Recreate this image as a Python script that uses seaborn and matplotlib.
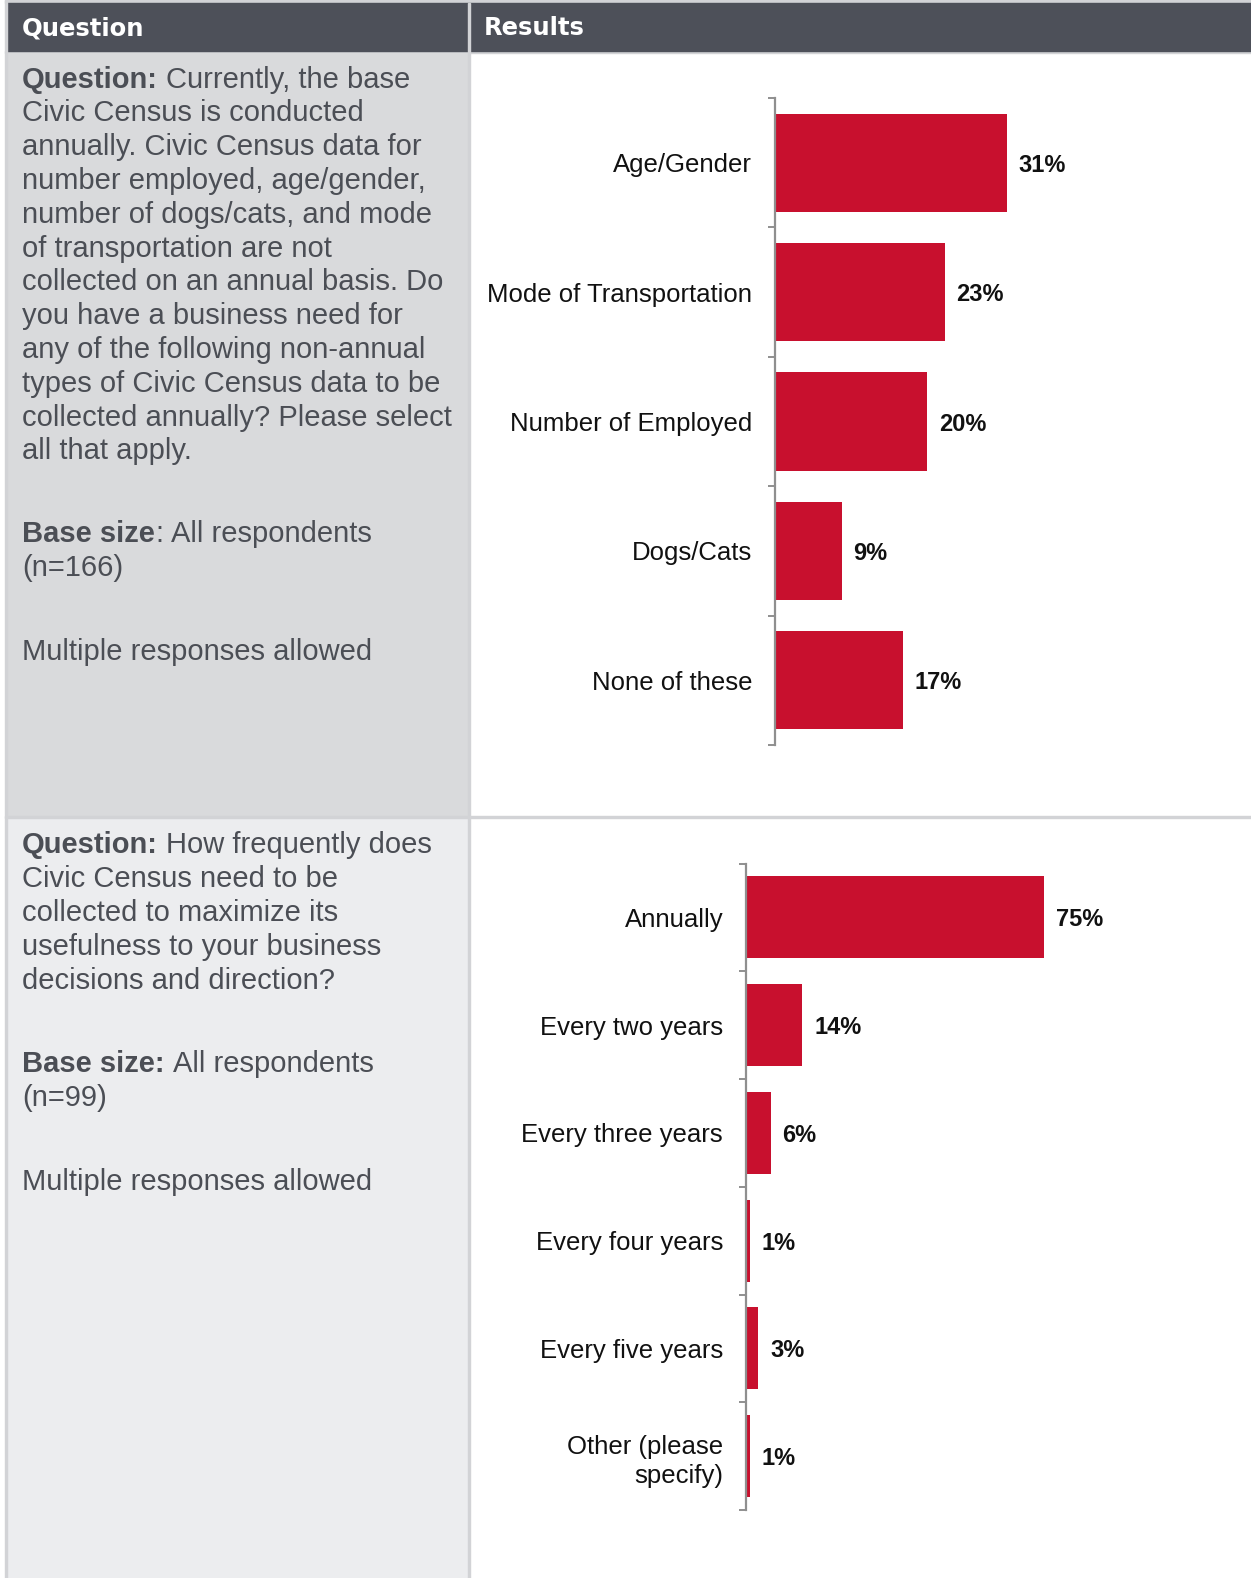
import numpy as np
import pandas as pd
import matplotlib
matplotlib.use("Agg")
import matplotlib.pyplot as plt
import seaborn as sns
from matplotlib.patches import Rectangle

# ---------------- data ----------------
q1_categories = ["Age/Gender", "Mode of Transportation", "Number of Employed",
                 "Dogs/Cats", "None of these"]
q1_values = [31.0, 22.7, 20.4, 8.9, 17.1]
q1_labels = ["31%", "23%", "20%", "9%", "17%"]

q2_categories = ["Annually", "Every two years", "Every three years",
                 "Every four years", "Every five years", "Other (please\nspecify)"]
q2_values = [75.0, 14.2, 6.2, 1.0, 3.1, 1.0]
q2_labels = ["75%", "14%", "6%", "1%", "3%", "1%"]

header_labels = ["Question", "Results"]

q1_text = [
    [[("Question:", True), ("Currently, the base", False)],
     [("Civic Census is conducted", False)],
     [("annually. Civic Census data for", False)],
     [("number employed, age/gender,", False)],
     [("number of dogs/cats, and mode", False)],
     [("of transportation are not", False)],
     [("collected on an annual basis. Do", False)],
     [("you have a business need for", False)],
     [("any of the following non-annual", False)],
     [("types of Civic Census data to be", False)],
     [("collected annually? Please select", False)],
     [("all that apply.", False)]],
    [[("Base size", True), (":", None), ("All respondents", False)],
     [("(n=166)", False)]],
    [[("Multiple responses allowed", False)]],
]
q2_text = [
    [[("Question:", True), ("How frequently does", False)],
     [("Civic Census need to be", False)],
     [("collected to maximize its", False)],
     [("usefulness to your business", False)],
     [("decisions and direction?", False)]],
    [[("Base size:", True), ("All respondents", False)],
     [("(n=99)", False)]],
    [[("Multiple responses allowed", False)]],
]

# ---------------- style ----------------
RED = "#c8102e"
HEADER = "#4d5059"
CELL1 = "#d9dadc"
CELL2 = "#ecedef"
BORDER = "#d2d3d6"
TXT = "#4b4e55"
AXISC = "#8f8f8f"

sns.set_style("white")
plt.rcParams["font.family"] = ["Liberation Sans", "DejaVu Sans"]

W, H = 1251, 1578
fig = plt.figure(figsize=(W / 100, H / 100), dpi=100)
bg = fig.add_axes([0, 0, 1, 1])
bg.set_xlim(0, W)
bg.set_ylim(H, 0)
bg.axis("off")

# table cells
bg.add_patch(Rectangle((0, 0), W, H, color="white", zorder=0))
bg.add_patch(Rectangle((5, 0), W - 5, 3, color=BORDER, zorder=1))
bg.add_patch(Rectangle((7, 3), W - 7, 48, color=HEADER, zorder=2))
bg.add_patch(Rectangle((5, 51), W - 5, 2, color=BORDER, zorder=1))
bg.add_patch(Rectangle((7, 53), 461, 763, color=CELL1, zorder=1))
bg.add_patch(Rectangle((7, 819), 461, H - 819, color=CELL2, zorder=1))
bg.add_patch(Rectangle((468, 3), 2, H - 3, color=BORDER, zorder=3))
bg.add_patch(Rectangle((5, 816), W - 5, 2, color=BORDER, zorder=3))
bg.add_patch(Rectangle((5, 0), 2, H, color=BORDER, zorder=3))

# header text
bg.text(22, 28, header_labels[0], color="white", fontsize=17.5, fontweight="bold",
        family=["DejaVu Sans"], va="center", ha="left", zorder=5)
bg.text(484, 28, header_labels[1], color="white", fontsize=17.5, fontweight="bold",
        family=["DejaVu Sans"], va="center", ha="left", zorder=5)

renderer = fig.canvas.get_renderer()
FS = 21
space_px = 0.278 * FS * 100 / 72


def draw_block(paragraphs, starts, x0=22, spacing=33.8):
    for para, y0 in zip(paragraphs, starts):
        for i, line in enumerate(para):
            y = y0 + i * spacing
            x = x0
            for j, (s, bold) in enumerate(line):
                if j > 0 and bold is not None:
                    x += space_px
                t = bg.text(x, y, s, fontsize=FS, color=TXT,
                            fontweight="bold" if bold else "normal",
                            va="baseline", ha="left", zorder=5)
                bb = t.get_window_extent(renderer)
                x = bb.x1


draw_block(q1_text, [87.5, 542.4, 660.1])
draw_block(q2_text, [853.4, 1071.8, 1189.5])


def px_axes(x0, y0, x1, y1):
    return fig.add_axes([x0 / W, 1 - y1 / H, (x1 - x0) / W, (y1 - y0) / H])


def draw_chart(ax, cats, vals, labels, xmax):
    df = pd.DataFrame({"cat": cats, "val": vals})
    sns.barplot(data=df, x="val", y="cat", orient="h", color=RED,
                saturation=1, width=0.76, ax=ax, linewidth=0)
    n = len(cats)
    ax.set_xlim(0, xmax)
    ax.set_ylim(n - 0.5, -0.5)
    ax.patch.set_alpha(0)
    for s in ["top", "right", "bottom"]:
        ax.spines[s].set_visible(False)
    ax.spines["left"].set_color(AXISC)
    ax.spines["left"].set_linewidth(1.6)
    ax.set_xticks([])
    ax.set_xlabel("")
    ax.set_ylabel("")
    ax.set_yticks(np.arange(-0.5, n), minor=True)
    ax.tick_params(axis="y", which="major", length=0, pad=16.5,
                   labelsize=18.5, labelcolor="#111111")
    ax.tick_params(axis="y", which="minor", length=5, width=1.4,
                   color=AXISC, direction="out", left=True)
    texts = ax.bar_label(ax.containers[0], labels=labels,
                         padding=8.5, fontsize=17, fontweight="bold",
                         color="#111111")
    for t in texts:
        t.set_verticalalignment("center_baseline")
    for lbl in ax.get_yticklabels():
        lbl.set_linespacing(1.3)


ax1 = px_axes(775, 98, 1074, 745)
draw_chart(ax1, q1_categories, q1_values, q1_labels, 40)

ax2 = px_axes(746, 863.5, 1143, 1510)
draw_chart(ax2, q2_categories, q2_values, q2_labels, 100)

fig.savefig("out.png", dpi=100)
